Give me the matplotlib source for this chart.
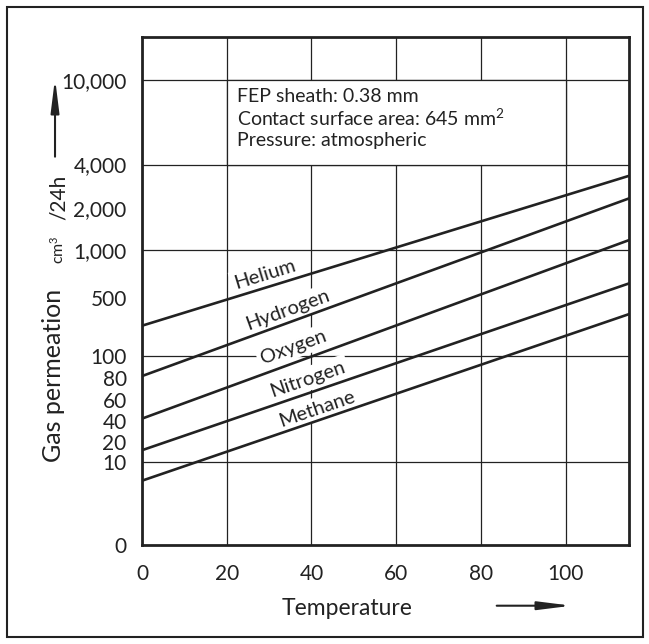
import numpy as np
import matplotlib
matplotlib.use("Agg")
import matplotlib.pyplot as plt
from matplotlib.patches import Rectangle

plt.rcParams['font.family'] = ['Lato', 'DejaVu Sans']
plt.rcParams['mathtext.fontset'] = 'custom'
plt.rcParams['mathtext.rm'] = 'Lato'
plt.rcParams['mathtext.it'] = 'Lato:italic'
plt.rcParams['mathtext.bf'] = 'Lato:bold'

# ---------------- data ----------------
temperature = [0, 115]
helium = [310, 3480]
hydrogen = [82, 2435]
oxygen = [42, 1236]
nitrogen = [15.7, 655]
methane = [7.7, 391]

gas_names = ['Helium', 'Hydrogen', 'Oxygen', 'Nitrogen', 'Methane']
gas_label_x = [29.0, 34.3, 35.7, 39.0, 41.4]
gas_label_y = [752, 419, 164, 79.4, 51.3]

x_ticks = [0, 20, 40, 60, 80, 100]
y_tick_values = [0, 10, 20, 40, 60, 80, 100, 500, 1000, 2000, 4000, 10000]
y_tick_labels = ['0', '10', '20', '40', '60', '80', '100', '500',
                 '1,000', '2,000', '4,000', '10,000']
y_grid_values = [10, 100, 1000, 4000, 10000]

# irregular hand-drawn value axis: value -> position knots
scale_values = [0, 10, 20, 40, 60, 80, 100, 500, 1000, 2000, 4000, 10000, 15000]
scale_pos = [0, 83.5, 103.3, 124.3, 145, 166.7, 189, 246.7, 295, 337.3, 380.5, 465, 508]


def fwd(v):
    return np.interp(v, scale_values, scale_pos)


def inv(p):
    return np.interp(p, scale_pos, scale_values)


INK = '#222222'

fig = plt.figure(figsize=(6.49, 6.44), dpi=100)
ax = fig.add_axes([142 / 649, 1 - 545 / 644, (629.3 - 142) / 649, (545 - 37) / 644])
ax.set_yscale('function', functions=(fwd, inv))
ax.set_xlim(0, 115)
ax.set_ylim(0, 15000)

ax.set_xticks(x_ticks)
ax.set_yticks(y_tick_values)
ax.set_yticklabels(y_tick_labels)
ax.yaxis.remove_overlapping_locs = False
ax.set_yticks(y_grid_values, minor=True)
ax.tick_params(axis='both', which='both', length=0, colors=INK, labelsize=15)
ax.tick_params(axis='x', pad=14)
ax.tick_params(axis='y', pad=11)

ax.set_axisbelow(True)
ax.xaxis.grid(True, which='major', color=INK, lw=0.9)
ax.yaxis.grid(True, which='minor', color=INK, lw=0.9)
ax.yaxis.grid(False, which='major')

for s in ax.spines.values():
    s.set_linewidth(2.0)
    s.set_color(INK)

# annotation box occupying grid cells
ax.add_patch(Rectangle((20, 4000), 80, 6000, facecolor='white', edgecolor=INK,
                       lw=0.9, zorder=1))
ax.text(0.1943, 0.84,
        'FEP sheath: 0.38 mm\nContact surface area: 645 mm$^{\\mathrm{2}}$\nPressure: atmospheric',
        transform=ax.transAxes, ha='left', va='center', fontsize=14,
        color=INK, linespacing=1.17, zorder=2)

series = [helium, hydrogen, oxygen, nitrogen, methane]
for name, vals, lx, ly in zip(gas_names, series, gas_label_x, gas_label_y):
    ax.plot(temperature, vals, color=INK, lw=1.9, zorder=3, solid_capstyle='butt')
    p0 = ax.transData.transform((temperature[0], vals[0]))
    p1 = ax.transData.transform((temperature[-1], vals[-1]))
    ang = np.degrees(np.arctan2(p1[1] - p0[1], p1[0] - p0[0]))
    ax.text(lx, ly, name, rotation=ang, rotation_mode='anchor', ha='center',
            va='center', fontsize=14.5, color=INK, zorder=2,
            bbox=dict(facecolor='white', edgecolor='none', pad=2.5))

# axis titles
ax.text((346.7 - 142) / 487.3, (545 - 608.3) / 508, 'Temperature',
        transform=ax.transAxes, ha='center', va='center', fontsize=16.5, color=INK)
ax.annotate('', xy=(0.8818, -0.1195), xytext=(0.7279, -0.1195),
            xycoords='axes fraction', textcoords='axes fraction', annotation_clip=False,
            arrowprops=dict(arrowstyle='-|>,head_length=2.0,head_width=0.25',
                            mutation_scale=10, lw=1.5, color=INK,
                            shrinkA=0, shrinkB=0))

ax.text(-0.1826, 0.3346, 'Gas permeation', transform=ax.transAxes, rotation=90,
        ha='center', va='center', fontsize=18, color=INK)
ax.text(-0.1724, 0.5807, 'cm$^{\\mathrm{3}}$', transform=ax.transAxes, rotation=90,
        ha='center', va='center', fontsize=11.5, color=INK)
ax.text(-0.1714, 0.6841, '/24h', transform=ax.transAxes, rotation=90,
        ha='center', va='center', fontsize=15, color=INK)
ax.annotate('', xy=(-0.1785, 0.9187), xytext=(-0.1785, 0.7644),
            xycoords='axes fraction', textcoords='axes fraction', annotation_clip=False,
            arrowprops=dict(arrowstyle='-|>,head_length=2.0,head_width=0.25',
                            mutation_scale=10, lw=1.5, color=INK,
                            shrinkA=0, shrinkB=0))

# outer frame
fig.patches.append(Rectangle((7.3 / 649, 1 - 637 / 644), (643 - 7.3) / 649,
                             (637 - 7.3) / 644, transform=fig.transFigure,
                             fill=False, edgecolor=INK, lw=1.5))

fig.savefig('out.png', dpi=100, facecolor='white')
